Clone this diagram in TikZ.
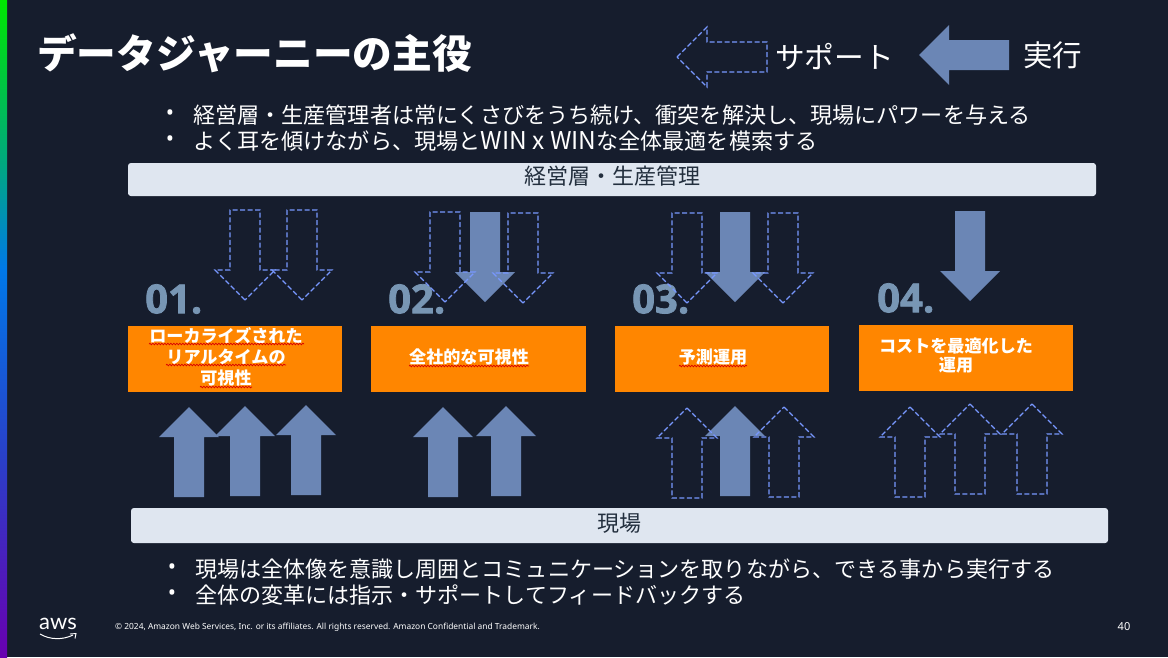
\documentclass[tikz,border=0pt]{standalone}
\usepackage{fontspec}
\setmainfont{Noto Sans CJK JP}
\newfontfamily\numfont[BoldFeatures={FakeBold=1.9}]{Open Sans}
\newfontfamily\notefont[BoldFeatures={FakeBold=1}]{Noto Sans}
\newfontfamily\logofont{Lato}
\usepackage{xcolor}
\usetikzlibrary{positioning,decorations.pathmorphing}
\definecolor{Page}{HTML}{161D2D}
\definecolor{Solid}{HTML}{6B86B5}
\definecolor{Dash}{HTML}{7898FF}
\definecolor{Bar}{HTML}{DFE6F0}
\definecolor{BarText}{HTML}{232F3E}
\definecolor{Stage}{HTML}{FF8600}
\definecolor{Num}{HTML}{7896B4}
\definecolor{StripeA}{HTML}{6800B0}
\definecolor{StripeB}{HTML}{2A3FC8}
\definecolor{StripeC}{HTML}{0078E8}
\definecolor{StripeD}{HTML}{00A880}
\definecolor{StripeE}{HTML}{00E600}
\pgfdeclareverticalshading{stripe}{100bp}{
  color(0bp)=(StripeA);color(25bp)=(StripeA);color(40bp)=(StripeB);color(54.5bp)=(StripeC);color(62.5bp)=(StripeD);color(75bp)=(StripeE);color(100bp)=(StripeE)}
\newcommand{\fs}[1]{\fontsize{#1}{#1}\selectfont}
\newcommand{\flatarrow}[4]{\draw[#1,shift={(#2,#3)},rotate=#4] (0,0) -- (-30,-30) -- (-15,-30) -- (-15,-90) -- (15,-90) -- (15,-30) -- (30,-30) -- cycle;}
\begin{document}
\begin{tikzpicture}[
    x=1pt,y=-1pt,
    every node/.style={inner sep=0pt,text=white},
    solidarrow/.style={fill=Solid,draw=none},
    dasharrow/.style={draw=Dash,line width=1.1pt,dash pattern=on 5pt off 2.5pt},
    bar/.style={rectangle,rounded corners=1mm,fill=Bar,text=BarText,font=\fs{22}},
    stage/.style={rectangle,fill=Stage,minimum width=214.5pt,minimum height=66pt},
    stagetext/.style={align=center,font=\fs{17.1}\bfseries},
    num/.style={anchor=west,text=Num,font=\fs{40}\numfont\bfseries},
    bullet/.style={anchor=west},
    squiggle/.style={draw=red!85!black,line width=0.7pt,decorate,decoration={snake,segment length=3pt,amplitude=0.8pt}}
]
\useasboundingbox (0,0) rectangle (1168,657);
\fill[Page] (0,0) rectangle (1168,657);
\shade[shading=stripe] (0,0) rectangle (7,657);

% heading and legend
\node[anchor=west,font=\fs{39.7}\bfseries] (title) at (37,53) {データジャーニーの主役};
\flatarrow{solidarrow}{919}{55}{-90}
\flatarrow{dasharrow}{677}{57}{-90}
\node[anchor=west,font=\fs{29.7}] (support) at (775,57) {サポート};
\node[anchor=west,font=\fs{29.5}] (run) at (1023,55) {実行};

% bullets
\foreach \bx/\tx/\by/\bs/\txt in {
  170/193/115/22.1/経営層・生産管理者は常にくさびをうち続け、衝突を解決し、現場にパワーを与える,
  170/193/141/22.1/よく耳を傾けながら、現場と{\fs{24.5}WIN x WIN}な全体最適を模索する,
  172/195/569/22.05/現場は全体像を意識し周囲とコミュニケーションを取りながら、できる事から実行する,
  172/195/595/22.05/全体の変革には指示・サポートしてフィードバックする}{
  \node[font=\fs{22}\notefont] at (\bx,\by) {•};
  \node[bullet,font=\fs{\bs}] at (\tx,\by) {\txt};
}

% bars
\node[bar,minimum width=968pt,minimum height=33pt] (mgmt) at (612,179.5) {};
\node[text=BarText,font=\fs{22}] (mgmtlabel) at (612,176) {経営層・生産管理};
\node[bar,minimum width=977pt,minimum height=35pt] (field) at (619.5,525.5) {};
\node[text=BarText,font=\fs{22}] (fieldlabel) at (619,523) {現場};

% numbers
\node[num] (n1) at (145,299) {01.};
\node[num] (n2) at (388,299) {02.};
\node[num] (n3) at (632,299) {03.};
\node[num] (n4) at (877,298) {04.};

% stages
\node[stage] (s1) at (235,359) {};
\node[stage] (s2) at (478.5,359) {};
\node[stage] (s3) at (722,359) {};
\node[stage] (s4) at (966,358) {};
\node[stagetext] (t1) at (226,357) {ローカライズされた\\[4pt]リアルタイムの\\[4pt]可視性};
\node[stagetext] (t2) at (469,357) {全社的な可視性};
\node[stagetext] (t3) at (713,357) {予測運用};
\node[stagetext] (t4) at (956,355.5) {コストを最適化した\\[2pt]運用};

% spell check marks
\foreach \xa/\xb/\yy in {149/304/344,166/286/365,200/252/387,409/529/366,679/747/366}{
  \draw[squiggle] (\xa,\yy) -- (\xb,\yy);
}

% down arrows
\foreach \ax/\ay in {485/302,735/302,970/301}{
  \flatarrow{solidarrow}{\ax}{\ay}{0}
}
\foreach \ax/\ay in {245/300,302/300,445/302,523/303,687/303,783/303}{
  \flatarrow{dasharrow}{\ax}{\ay}{0}
}

% up arrows
\foreach \ax/\ay in {189/407,245/406,306/405,443/407,506/406,735/406}{
  \flatarrow{solidarrow}{\ax}{\ay}{180}
}
\foreach \ax/\ay in {687/408,784/407,910/407,970/404,1032/404}{
  \flatarrow{dasharrow}{\ax}{\ay}{180}
}

% footer
\node[font=\fs{22}\logofont] (aws) at (58,624) {aws};
\coordinate (smileA) at (40,634);
\coordinate (smileB) at (73,635);
\draw[white,line width=1pt] (smileA) .. controls (50,640) and (63,640) .. (smileB);
\draw[white,line width=0.9pt] (70,634) -- (76,633.5) -- (75,638.5);
\node[anchor=west,font=\fs{8.4}\notefont] (legal) at (115,627) {© 2024, Amazon Web Services, Inc. or its affiliates. All rights reserved. \textbf{Amazon Confidential and Trademark.}};
\node[font=\fs{11}\notefont] (page) at (1124,627) {40};
\end{tikzpicture}
\end{document}
